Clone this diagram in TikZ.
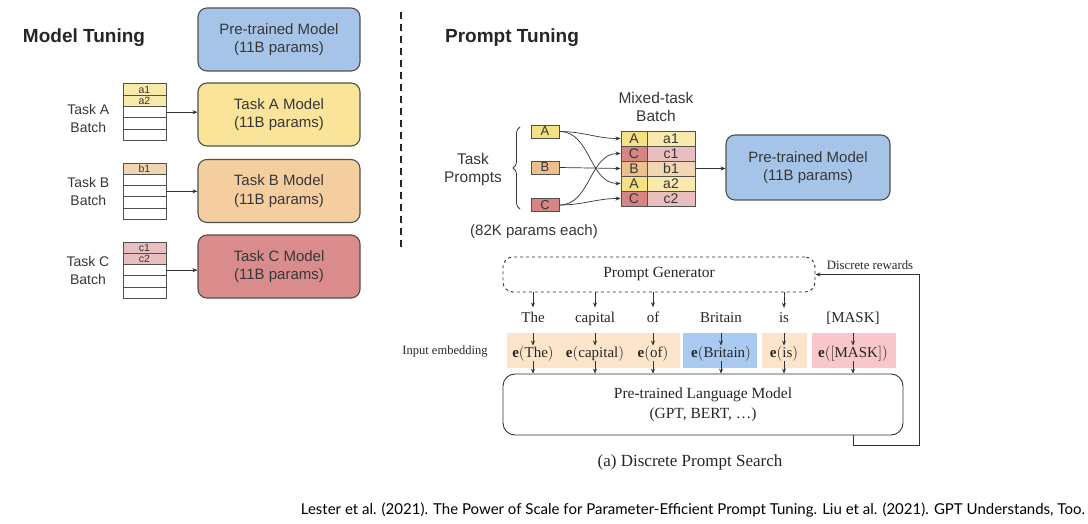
\documentclass[tikz,border=0pt]{standalone}
\usepackage{fix-cm}
\usepackage{amsmath}
\usepackage{fontspec}
\setmainfont{Liberation Serif}
\setsansfont{Liberation Sans}
\newfontfamily\citefont{Lato}
\usetikzlibrary{calc, shapes.geometric, arrows.meta, positioning, decorations.pathreplacing}

\definecolor{edgegray}{RGB}{80,80,80}
\definecolor{txtgray}{RGB}{55,55,55}
\definecolor{mblue}{RGB}{166,196,232}
\definecolor{myellow}{RGB}{250,228,153}
\definecolor{morange}{RGB}{245,206,160}
\definecolor{mred}{RGB}{218,140,140}
\definecolor{cyellow}{RGB}{248,234,170}
\definecolor{corange}{RGB}{240,214,178}
\definecolor{cred}{RGB}{232,190,190}
\definecolor{pyellow}{RGB}{245,224,130}
\definecolor{porange}{RGB}{236,192,140}
\definecolor{pred}{RGB}{214,132,132}
\definecolor{eorange}{RGB}{252,229,203}
\definecolor{eblue}{RGB}{170,202,242}
\definecolor{epink}{RGB}{249,198,204}

\begin{document}
\begin{tikzpicture}[x=1pt,y=-1pt,
  every node/.style={inner sep=0pt},
  model/.style={draw=edgegray, line width=1.1pt, rounded corners=9pt, fill=#1,
    minimum width=162pt, minimum height=63pt, align=center, text=txtgray,
    font=\sffamily\fontsize{15}{18.5}\selectfont},
  heading/.style={font=\sffamily\bfseries\fontsize{19}{22}\selectfont, text=black!85},
  sanslbl/.style={align=center, text=txtgray, font=\sffamily\fontsize{14}{18}\selectfont},
  cell/.style={draw=edgegray, line width=0.9pt, fill=#1, minimum width=43pt,
    minimum height=11.3pt, text=txtgray, font=\sffamily\fontsize{10.5}{10}\selectfont},
  cell/.default=white,
  prompt/.style={draw=edgegray, line width=0.9pt, fill=#1, minimum width=28pt,
    minimum height=13pt, text=txtgray, font=\sffamily\fontsize{13}{13}\selectfont},
  mcell/.style={draw=edgegray, line width=0.9pt, fill=#1, minimum height=15pt,
    text=txtgray, font=\sffamily\fontsize{14}{14}\selectfont},
  arr/.style={-{Stealth[length=5pt,width=4pt]}, line width=0.7pt, draw=black!80},
  serif/.style={font=\fontsize{15}{19}\selectfont, text=black!85},
  embbg/.style={fill=#1, minimum height=35pt},
  emb/.style={font=\fontsize{15}{18}\selectfont, text=black!85, anchor=base}]

\useasboundingbox (0,0) rectangle (1088,524);

% model tuning
\node[heading] (mt) at (84,38) {Model Tuning};
\node[model=mblue] (mP) at (279,39.5) {Pre-trained Model\\(11B params)};
\node[model=myellow] (mA) at (279,114.5) {Task A Model\\(11B params)};
\node[model=morange] (mB) at (279,191) {Task B Model\\(11B params)};
\node[model=mred] (mC) at (279,266.5) {Task C Model\\(11B params)};

\foreach \i/\t/\c in {0/a1/cyellow, 1/a2/cyellow, 2/{}/white, 3/{}/white, 4/{}/white}
  \node[cell=\c] (bA\i) at (144.5,89.6+11.3*\i) {\t};
\foreach \i/\t/\c in {0/b1/corange, 1/{}/white, 2/{}/white, 3/{}/white, 4/{}/white}
  \node[cell=\c] (bB\i) at (144.5,168.7+11.3*\i) {\t};
\foreach \i/\t/\c in {0/c1/cred, 1/c2/cred, 2/{}/white, 3/{}/white, 4/{}/white}
  \node[cell=\c] (bC\i) at (144.5,247.6+11.3*\i) {\t};

\node[sanslbl, left=13pt of bA2.south west] (lA) {Task A\\Batch};
\node[sanslbl, left=13pt of bB2] (lB) {Task B\\Batch};
\node[sanslbl, left=13pt of bC2] (lC) {Task C\\Batch};

\draw[arr] (bA2.east) -- (bA2.east -| mA.west);
\draw[arr] (bB2.east) -- (bB2.east -| mB.west);
\draw[arr] (bC2.east) -- (bC2.east -| mC.west);

\coordinate (sepT) at (401,12);
\coordinate (sepB) at (401,250);
\draw[line width=2.3pt, dash pattern=on 7pt off 5pt, black!85] (sepT) -- (sepB);

% prompt tuning
\node[heading] (pt) at (512,38) {Prompt Tuning};

\node[prompt=pyellow] (pA) at (545,131.5) {A};
\node[prompt=porange] (pB) at (545,167.5) {B};
\node[prompt=pred] (pC) at (545,205) {C};
\draw[line width=0.8pt, txtgray, decorate, decoration={brace, amplitude=7pt}]
  (520,209) -- (520,127);
\node[sanslbl, font=\sffamily\fontsize{15.5}{18}\selectfont] (tp) at (473,169) {Task\\Prompts};
\node[sanslbl, font=\sffamily\fontsize{15}{18}\selectfont] (pe) at (534,231.5) {(82K params each)};

\foreach \i/\l/\r/\cl/\cr in {0/A/a1/pyellow/cyellow, 1/C/c1/pred/cred, 2/B/b1/porange/corange,
    3/A/a2/pyellow/cyellow, 4/C/c2/pred/cred}{
  \node[mcell=\cl, minimum width=26pt] (mL\i) at (634,138.5+15*\i) {\l};
  \node[mcell=\cr, minimum width=48pt] (mR\i) at (671,138.5+15*\i) {\r};
}
\node[sanslbl, font=\sffamily\fontsize{15.5}{18}\selectfont] (mtb) at (656,107) {Mixed-task\\Batch};

\draw[arr] (pA.east) to[out=0,in=180] (mL0.west);
\draw[arr] (pA.east) to[out=0,in=180] (mL3.west);
\draw[arr] (pB.east) -- (mL2.west);
\draw[arr] (pC.east) to[out=0,in=180] (mL1.west);
\draw[arr] (pC.east) to[out=0,in=180] (mL4.west);

\node[model=mblue, minimum width=164pt, minimum height=65pt] (pR) at (808,167.5) {Pre-trained Model\\(11B params)};
\draw[arr] (mR2.east) -- (mR2.east -| pR.west);

% discrete prompt search
\node[draw=black!80, dashed, line width=0.9pt, rounded corners=10pt, minimum width=312pt,
  minimum height=35pt, serif, font=\fontsize{15.5}{18}\selectfont] (gen) at (659,274.5) {Prompt Generator};

\node[embbg=eorange, minimum width=173pt] (bg1) at (593.5,350.5) {};
\node[embbg=eblue, minimum width=74pt] (bg2) at (720,350.5) {};
\node[embbg=eorange, minimum width=45pt] (bg3) at (784.5,350.5) {};
\node[embbg=epink, minimum width=84pt] (bg4) at (854,350.5) {};

\foreach \n/\x/\w in {The/533/The, capital/595/capital, of/653/of, Britain/721/Britain, is/784/is, mask/853/{[MASK]}}{
  \node[serif, anchor=base] (w\n) at (\x,322) {\w};
  \node[emb] (e\n) at (\x,357) {$\mathbf{e}(\mathrm{\w})$};
}

\node[draw=black!80, line width=0.9pt, rounded corners=12pt, minimum width=400pt, minimum height=61pt,
  align=center, font=\fontsize{15.5}{20}\selectfont, text=black!85] (lm) at (703,404.5)
  {Pre-trained Language Model\\(GPT, BERT, \ldots)};

\foreach \n in {The, capital, of, is}
  \draw[arr, shorten >=4pt] (gen.south -| w\n) -- (w\n.north);
\foreach \n in {The, capital, of, Britain, is, mask}{
  \draw[arr] (e\n.north |- bg1.north) -- (e\n.north);
  \draw[arr] (e\n.south) -- (e\n.south |- lm.north);
}

\node[font=\fontsize{12.5}{15}\selectfont, text=black!85] (ie) at (445,352) {Input embedding};

\coordinate (fb) at (919,445);
\draw[arr] (lm.south -| emask) |- (fb) |- (gen.east);
\node[font=\fontsize{12.8}{15}\selectfont, text=black!85] (dr) at (870,265) {Discrete rewards};

\node[font=\fontsize{17}{20}\selectfont, text=black!85] (cap) at (690,462) {(a) Discrete Prompt Search};

\node[font=\citefont\fontsize{15}{17}\selectfont, anchor=east] (cite) at (1085,510)
  {Lester et al. (2021). The Power of Scale for Parameter-Efficient Prompt Tuning. Liu et al. (2021). GPT Understands, Too.};
\end{tikzpicture}
\end{document}
